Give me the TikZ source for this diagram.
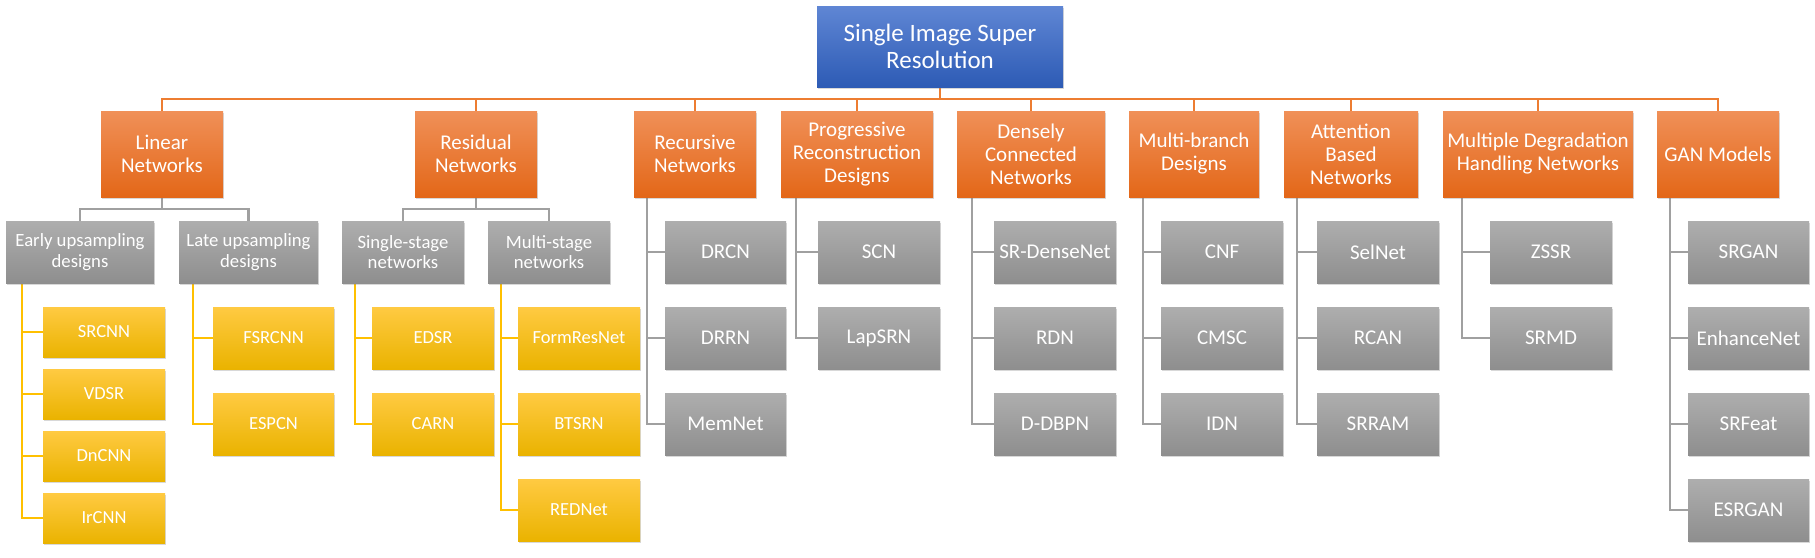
\documentclass[tikz,border=0pt]{standalone}
\usepackage{fontspec}
\setmainfont{Carlito}
\usetikzlibrary{shadows}
\definecolor{blueTop}{HTML}{5F86D4}
\definecolor{blueBot}{HTML}{2D5BB5}
\definecolor{orTop}{HTML}{F09058}
\definecolor{orBot}{HTML}{E36718}
\definecolor{grTop}{HTML}{AEAEAE}
\definecolor{grBot}{HTML}{8E8E8E}
\definecolor{yeTop}{HTML}{FFCA42}
\definecolor{yeBot}{HTML}{EAB300}
\definecolor{lnOr}{HTML}{ED7D31}
\definecolor{lnGr}{HTML}{A0A0A0}
\definecolor{lnYe}{HTML}{FFC000}
\pgfdeclarelayer{bgzero}
\pgfdeclarelayer{lines}
\pgfsetlayers{bgzero,lines,main}
\tikzset{
  box/.style={rectangle, inner sep=1pt, align=center, text=white,
    font=\fontsize{21}{23}\selectfont,
    drop shadow={shadow xshift=1.2pt, shadow yshift=-2.2pt, opacity=0.3}},
  rootbox/.style={box, top color=blueTop, bottom color=blueBot,
    minimum width=246pt, minimum height=81pt, font=\fontsize{25}{26.7}\selectfont},
  catbox/.style={box, top color=orTop, bottom color=orBot, minimum height=86pt},
  graybox/.style={box, top color=grTop, bottom color=grBot, minimum height=62pt, minimum width=122pt},
  subbox/.style={graybox, font=\fontsize{18.7}{20.5}\selectfont},
  yelbox/.style={box, top color=yeTop, bottom color=yeBot, minimum width=122pt, minimum height=62pt,
    font=\fontsize{18.5}{20.5}\selectfont},
  oline/.style={draw=lnOr, line width=2.2pt},
  gline/.style={draw=lnGr, line width=2.4pt},
  yline/.style={draw=lnYe, line width=2.4pt},
}
\begin{document}
\begin{tikzpicture}[x=1pt, y=-1pt]
\begin{pgfonlayer}{bgzero}
  \fill[white] (0,0) rectangle (1815,557);
\end{pgfonlayer}
\useasboundingbox (0,0) rectangle (1815,557);

% root
\node[rootbox] (root) at (940,46.5) {Single Image Super\\Resolution};

% categories
\node[catbox, minimum width=122pt] (lin) at (162,154) {Linear\\Networks};
\node[catbox, minimum width=122pt] (res) at (476,154) {Residual\\Networks};
\node[catbox, minimum width=122pt] (rec) at (695,154) {Recursive\\Networks};
\node[catbox, minimum width=152pt] (pro) at (857,154) {Progressive\\Reconstruction\\Designs};
\node[catbox, minimum width=148pt] (den) at (1031,154) {Densely\\Connected\\Networks};
\node[catbox, minimum width=130pt] (mbr) at (1194,154) {Multi-branch\\Designs};
\node[catbox, minimum width=134pt] (att) at (1351,154) {Attention\\Based\\Networks};
\node[catbox, minimum width=190pt] (mdh) at (1538,154) {Multiple Degradation\\Handling Networks};
\node[catbox, minimum width=122pt] (gan) at (1718,154) {GAN Models};

% sub-categories
\node[subbox, minimum width=148pt] (early) at (80,252) {Early upsampling\\designs};
\node[subbox, minimum width=139pt] (late) at (248.5,252) {Late upsampling\\designs};
\node[subbox] (single) at (403,252) {Single-stage\\networks};
\node[subbox] (multi) at (549,252) {Multi-stage\\networks};

% yellow leaves
\node[yelbox, minimum height=50pt] (srcnn) at (104,332) {SRCNN};
\node[yelbox, minimum height=50pt] (vdsr) at (104,394) {VDSR};
\node[yelbox, minimum height=50pt] (dncnn) at (104,456) {DnCNN};
\node[yelbox, minimum height=50pt] (ircnn) at (104,518) {IrCNN};
\node[yelbox, minimum width=121pt] (fsrcnn) at (273.5,338) {FSRCNN};
\node[yelbox, minimum width=121pt] (espcn) at (273.5,424) {ESPCN};
\node[yelbox] (edsr) at (433,338) {EDSR};
\node[yelbox] (carn) at (433,424) {CARN};
\node[yelbox] (formres) at (579,338) {FormResNet};
\node[yelbox] (btsrn) at (579,424) {BTSRN};
\node[yelbox] (rednet) at (579,510) {REDNet};

% gray leaves
\node[graybox, minimum width=121pt] (drcn) at (725.5,252) {DRCN};
\node[graybox, minimum width=121pt] (drrn) at (725.5,338) {DRRN};
\node[graybox, minimum width=121pt] (memnet) at (725.5,424) {MemNet};
\node[graybox] (scn) at (879,252) {SCN};
\node[graybox] (lapsrn) at (879,338) {LapSRN};
\node[graybox] (srdense) at (1055,252) {SR-DenseNet};
\node[graybox] (rdn) at (1055,338) {RDN};
\node[graybox] (ddbpn) at (1055,424) {D-DBPN};
\node[graybox] (cnf) at (1222,252) {CNF};
\node[graybox] (cmsc) at (1222,338) {CMSC};
\node[graybox] (idn) at (1222,424) {IDN};
\node[graybox] (selnet) at (1378,252) {SelNet};
\node[graybox] (rcan) at (1378,338) {RCAN};
\node[graybox] (srram) at (1378,424) {SRRAM};
\node[graybox] (zssr) at (1551,252) {ZSSR};
\node[graybox] (srmd) at (1551,338) {SRMD};
\node[graybox, minimum width=121pt] (srgan) at (1748.5,252) {SRGAN};
\node[graybox, minimum width=121pt] (enhance) at (1748.5,338) {EnhanceNet};
\node[graybox, minimum width=121pt] (srfeat) at (1748.5,424) {SRFeat};
\node[graybox, minimum width=121pt] (esrgan) at (1748.5,510) {ESRGAN};

\coordinate (obus) at (940,99);
\coordinate (lbus) at (162,209);
\coordinate (rbus) at (476,209);

\begin{pgfonlayer}{lines}
  % orange bus
  \draw[oline] (root.south) -- (obus);
  \foreach \c in {lin,res,rec,pro,den,mbr,att,mdh,gan}
    \draw[oline] (obus) -| (\c.north);
  % gray bus under Linear / Residual
  \draw[gline] (lin.south) -- (lbus);
  \draw[gline] (lbus) -| (early.north);
  \draw[gline] (lbus) -| (late.north);
  \draw[gline] (res.south) -- (rbus);
  \draw[gline] (rbus) -| (single.north);
  \draw[gline] (rbus) -| (multi.north);
  % yellow branches
  \foreach \c in {srcnn,vdsr,dncnn,ircnn}
    \draw[yline] ([xshift=16pt]early.south west) |- (\c.west);
  \foreach \c in {fsrcnn,espcn}
    \draw[yline] ([xshift=14pt]late.south west) |- (\c.west);
  \foreach \c in {edsr,carn}
    \draw[yline] ([xshift=13pt]single.south west) |- (\c.west);
  \foreach \c in {formres,btsrn,rednet}
    \draw[yline] ([xshift=13pt]multi.south west) |- (\c.west);
  % gray branches
  \foreach \c in {drcn,drrn,memnet}
    \draw[gline] ([xshift=13pt]rec.south west) |- (\c.west);
  \foreach \c in {scn,lapsrn}
    \draw[gline] ([xshift=15pt]pro.south west) |- (\c.west);
  \foreach \c in {srdense,rdn,ddbpn}
    \draw[gline] ([xshift=15pt]den.south west) |- (\c.west);
  \foreach \c in {cnf,cmsc,idn}
    \draw[gline] ([xshift=14pt]mbr.south west) |- (\c.west);
  \foreach \c in {selnet,rcan,srram}
    \draw[gline] ([xshift=13pt]att.south west) |- (\c.west);
  \foreach \c in {zssr,srmd}
    \draw[gline] ([xshift=19pt]mdh.south west) |- (\c.west);
  \foreach \c in {srgan,enhance,srfeat,esrgan}
    \draw[gline] ([xshift=13pt]gan.south west) |- (\c.west);
\end{pgfonlayer}
\end{tikzpicture}
\end{document}
